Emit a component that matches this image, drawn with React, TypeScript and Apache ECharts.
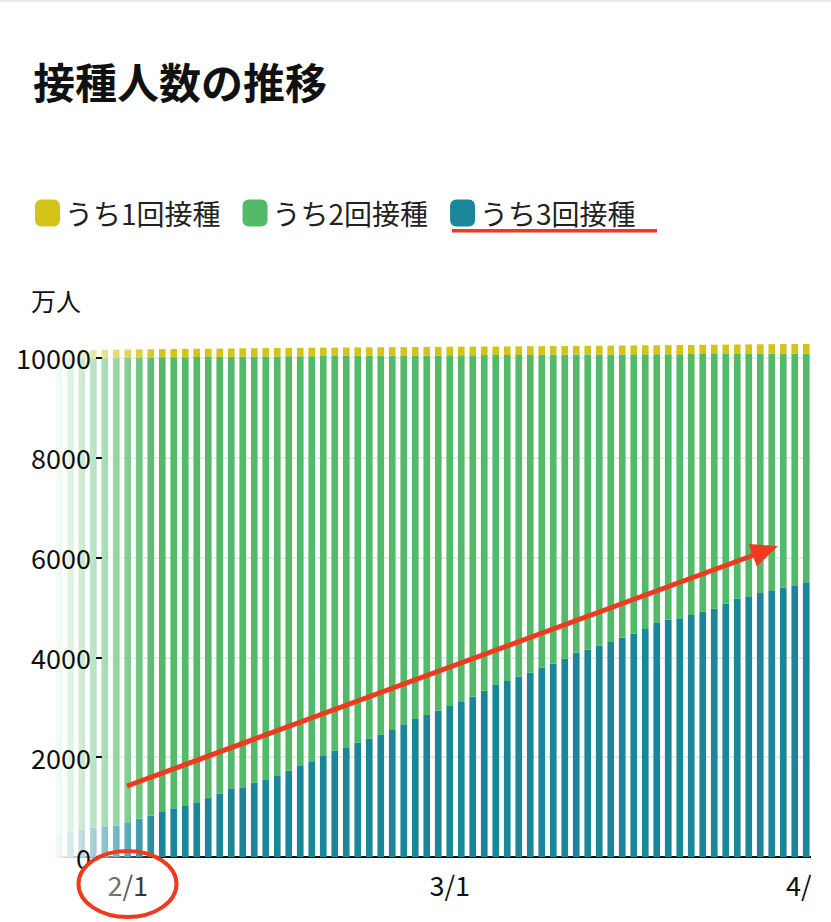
import React, { useEffect, useRef } from "react";
import * as echarts from "echarts";

const categories = [
  "1/26", "1/27", "1/28", "1/29", "1/30", "1/31",
  "2/1", "2/2", "2/3", "2/4", "2/5", "2/6", "2/7", "2/8", "2/9", "2/10",
  "2/11", "2/12", "2/13", "2/14", "2/15", "2/16", "2/17", "2/18", "2/19", "2/20",
  "2/21", "2/22", "2/23", "2/24", "2/25", "2/26", "2/27", "2/28",
  "3/1", "3/2", "3/3", "3/4", "3/5", "3/6", "3/7", "3/8", "3/9", "3/10",
  "3/11", "3/12", "3/13", "3/14", "3/15", "3/16", "3/17", "3/18", "3/19", "3/20",
  "3/21", "3/22", "3/23", "3/24", "3/25", "3/26", "3/27", "3/28", "3/29", "3/30",
  "3/31", "4/1",
];

// 3回接種者数（万人）
const thirdDose = [
  470, 507, 548, 591, 614, 634,
  698, 765, 825, 902, 975, 1022, 1096, 1189, 1269, 1363,
  1396, 1489, 1543, 1623, 1730, 1824, 1918, 2024, 2131, 2198,
  2290, 2370, 2455, 2545, 2660, 2766, 2846, 2933,
  3026, 3120, 3213, 3333, 3447, 3527, 3614, 3694, 3794, 3874,
  3975, 4095, 4155, 4235, 4309, 4395, 4475, 4582, 4689, 4756,
  4770, 4850, 4916, 4976, 5077, 5177, 5224, 5291, 5344, 5397,
  5444, 5504,
];

// 2回接種者数（万人）
const secondDoseTotal = [
  9992, 9995, 9998, 10001, 10003, 10005, 10007, 10009, 10011, 10013,
  10015, 10016, 10018, 10020, 10022, 10024, 10025, 10027, 10028, 10030,
  10032, 10034, 10035, 10037, 10038, 10040, 10041, 10043, 10044, 10046,
  10047, 10049, 10050, 10051, 10053, 10054, 10055, 10057, 10058, 10059,
  10060, 10062, 10063, 10064, 10065, 10066, 10068, 10069, 10070, 10071,
  10072, 10073, 10074, 10075, 10076, 10077, 10078, 10079, 10080, 10081,
  10082, 10083, 10084, 10085, 10086, 10088,
];

// 1回接種者数（万人）
const firstDoseTotal = [
  10148, 10152, 10156, 10160, 10163, 10166, 10169, 10172, 10175, 10178,
  10180, 10182, 10185, 10187, 10189, 10191, 10193, 10195, 10197, 10199,
  10201, 10203, 10205, 10207, 10208, 10210, 10212, 10213, 10215, 10217,
  10218, 10220, 10222, 10223, 10225, 10226, 10228, 10229, 10231, 10232,
  10234, 10236, 10237, 10239, 10241, 10242, 10244, 10246, 10248, 10250,
  10252, 10254, 10256, 10258, 10260, 10262, 10264, 10266, 10268, 10270,
  10272, 10274, 10276, 10278, 10280, 10283,
];

const yTicks = [0, 2000, 4000, 6000, 8000, 10000];
const legendNames = ["うち1回接種", "うち2回接種", "うち3回接種"];

const FONT = "'Noto Sans CJK JP', 'Noto Sans', sans-serif";
const TEAL = "#1b869a";
const GREEN = "#52ba68";
const YELLOW = "#d4c41a";
const RED = "#ee3b1f";

const isMonthStart = (_i: number, value: string) => value.split("/")[1] === "1";

export default function App() {
  const ref = useRef<HTMLDivElement>(null);

  useEffect(() => {
    if (!ref.current) return;
    const chart = echarts.init(ref.current, undefined, { renderer: "svg" });

    const secondOnly = secondDoseTotal.map((v, i) => v - thirdDose[i]);
    const firstOnly = firstDoseTotal.map((v, i) => v - secondDoseTotal[i]);

    chart.setOption({
      animation: false,
      backgroundColor: "#ffffff",
      title: {
        text: "接種人数の推移",
        left: 28,
        top: 54,
        textStyle: { fontSize: 42, fontWeight: "bold", color: "#111", fontFamily: FONT },
      },
      legend: {
        data: legendNames,
        left: 30,
        top: 194,
        icon: "roundRect",
        itemWidth: 25,
        itemHeight: 27,
        itemGap: 22,
        textStyle: { fontSize: 28, color: "#222", fontFamily: FONT },
      },
      grid: { left: 53, right: 19, top: 338, bottom: 65 },
      xAxis: {
        type: "category",
        data: categories,
        boundaryGap: true,
        axisLine: { lineStyle: { color: "#111", width: 2 } },
        axisTick: { interval: isMonthStart, alignWithLabel: true, length: 10, lineStyle: { color: "#111", width: 2 } },
        axisLabel: { interval: isMonthStart, fontSize: 27, color: "#111", margin: 14, fontFamily: FONT },
      },
      yAxis: [
        {
          type: "value",
          min: 0,
          max: 10400,
          interval: 2000,
          position: "left",
          axisLine: { show: false },
          axisTick: { show: false },
          axisLabel: { show: false },
          splitLine: { show: true, showMaxLine: false, lineStyle: { color: "#e4e4e4", width: 1.5 } },
        },
        {
          type: "value",
          min: 0,
          max: 10400,
          interval: 2000,
          position: "left",
          offset: -49,
          z: 20,
          axisLine: { show: false },
          axisTick: { show: true, length: 6, customValues: yTicks, lineStyle: { color: "#111", width: 2 } },
          axisLabel: {
            customValues: yTicks,
            formatter: (v: number) => String(v),
            fontSize: 27,
            color: "#111",
            margin: 11,
            fontFamily: FONT,
          },
          splitLine: { show: false },
        },
      ],
      series: [
        { name: "うち3回接種", type: "bar", stack: "total", data: thirdDose, barWidth: "58%", itemStyle: { color: TEAL } },
        { name: "うち2回接種", type: "bar", stack: "total", data: secondOnly, barWidth: "58%", itemStyle: { color: GREEN } },
        { name: "うち1回接種", type: "bar", stack: "total", data: firstOnly, barWidth: "58%", itemStyle: { color: YELLOW } },
      ],
      graphic: [
        {
          type: "rect",
          z: 10,
          shape: { x: 0, y: 330, width: 158, height: 575 },
          style: {
            fill: new echarts.graphic.LinearGradient(0, 0, 1, 0, [
              { offset: 0, color: "rgba(255,255,255,1)" },
              { offset: 0.33, color: "rgba(255,255,255,1)" },
              { offset: 1, color: "rgba(255,255,255,0)" },
            ]),
          },
        },
        {
          type: "text",
          z: 20,
          left: 31,
          top: 287,
          style: { text: "万人", fontSize: 25, fill: "#111", fontFamily: FONT },
        },
        { type: "rect", z: 30, shape: { x: 452, y: 229, width: 205, height: 3.5 }, style: { fill: RED } },
        { type: "ellipse", z: 30, shape: { cx: 127.5, cy: 884, rx: 49, ry: 33 }, style: { fill: "none", stroke: RED, lineWidth: 4 } },
        { type: "line", z: 30, shape: { x1: 127, y1: 786, x2: 754, y2: 555 }, style: { stroke: RED, lineWidth: 5 } },
        { type: "polygon", z: 30, shape: { points: [[778, 546], [748.5, 544], [756.8, 566.6]] }, style: { fill: RED } },
      ],
    });

    return () => chart.dispose();
  }, []);

  return (
    <div style={{ position: "absolute", left: 0, top: 0, width: 831, height: 922, background: "#fff" }}>
      <div style={{ position: "absolute", left: 0, top: 0, width: 811, height: 922, overflow: "hidden" }}>
        <div ref={ref} style={{ width: 831, height: 922 }} />
      </div>
      <div style={{ position: "absolute", left: 0, top: 0, width: 831, height: 2, background: "#e9e9e9" }} />
    </div>
  );
}
